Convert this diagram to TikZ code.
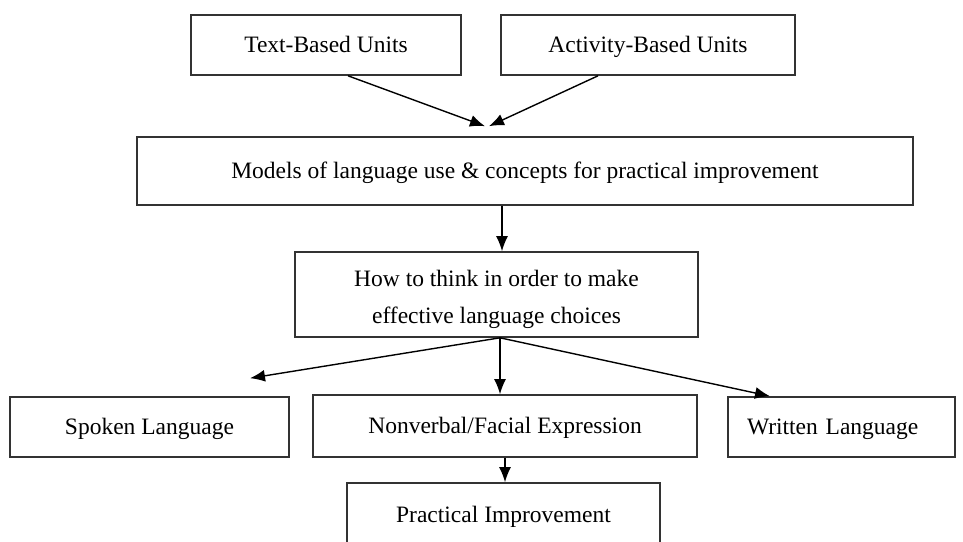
\documentclass[tikz,border=0pt]{standalone}
\usepackage{fontspec}
\setmainfont{Liberation Serif}
\usetikzlibrary{arrows.meta,positioning}

\begin{document}
\begin{tikzpicture}[x=1pt,y=-1pt,
  txt/.style={inner sep=0pt,font=\fontsize{23.5}{37}\selectfont,align=center},
  box/.style={txt,draw=black!80,line width=1.6pt,minimum height=60pt,execute at begin node=\strut},
  arr/.style={line width=1.4pt,-{Latex[length=15pt,width=12pt]}}]
\useasboundingbox[fill=white] (0,0) rectangle (963,541);

\node[box,minimum width=270pt] (textb) at (326,45) {Text-Based Units};
\node[box,minimum width=294pt] (actb) at (648,45) {Activity-Based Units};
\node[box,minimum width=776pt,minimum height=68pt] (models) at (525,171)
  {Models of language use \& concepts for practical improvement};
\node[box,minimum width=403pt,minimum height=85pt] (howto) at (496.5,294.5) {};
\node[txt] (howtotext) at ([yshift=-5pt]howto.center)
  {How to think in order to make\\effective language choices};
\node[box,minimum width=279pt] (spoken) at (149.5,427) {Spoken Language};
\node[box,minimum width=384pt,minimum height=62pt] (nonv) at (505,426) {Nonverbal/Facial Expression};
\node[box,inner xsep=19pt,text width=189pt,align=left] (written) at (841.5,427) {Written Language};
\node[box,minimum width=313pt,minimum height=64pt] (pract) at (503.5,515) {Practical Improvement};

\coordinate (fork) at ([xshift=3.5pt]howto.south);

\draw[arr] ([xshift=22pt]textb.south) -- ([xshift=-40pt,yshift=10pt]models.north);
\draw[arr] ([xshift=-50pt]actb.south) -- ([xshift=-36pt,yshift=10pt]models.north);
\draw[arr] ([xshift=-23pt]models.south) -- ([xshift=-23pt]models.south |- howto.north);
\draw[arr] (fork) -- ([xshift=100.5pt,yshift=18pt]spoken.north);
\draw[arr] (fork) -- (fork |- nonv.north);
\draw[arr] (fork) -- ([xshift=-71.5pt]written.north);
\draw[arr] (nonv.south) -- (nonv.south |- pract.north);

\end{tikzpicture}
\end{document}
